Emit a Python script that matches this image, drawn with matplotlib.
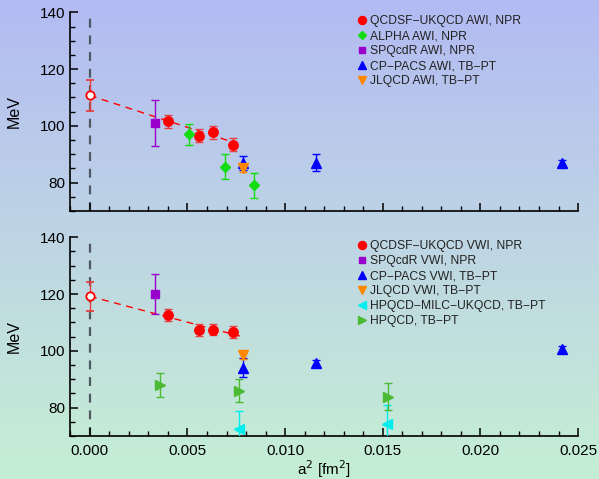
import numpy as np
import matplotlib
matplotlib.use("Agg")
import matplotlib.pyplot as plt
from matplotlib.ticker import MultipleLocator, FormatStrFormatter
from matplotlib.lines import Line2D

plt.rcParams['font.family'] = ['Liberation Sans', 'DejaVu Sans']

# ---------------- AWI panel ----------------
qcdsf_awi_x = [0.00398, 0.00558, 0.00630, 0.00732]
qcdsf_awi_y = [101.6, 96.5, 97.7, 93.3]
qcdsf_awi_e = [2.2, 2.3, 2.3, 2.3]

alpha_awi_x = [0.00507, 0.00691, 0.00841]
alpha_awi_y = [97.0, 85.6, 79.0]
alpha_awi_e = [3.7, 4.4, 4.4]

spqcdr_awi_x = [0.00336]
spqcdr_awi_y = [101.0]
spqcdr_awi_e = [8.0]

cppacs_awi_x = [0.00783, 0.01157, 0.02416]
cppacs_awi_y = [86.9, 87.0, 87.0]
cppacs_awi_e = [2.6, 3.0, 1.0]

jlqcd_awi_x = [0.00783]
jlqcd_awi_y = [85.1]
jlqcd_awi_e = [1.3]

cont_awi_y, cont_awi_e = 110.7, 5.5
fit_awi_x = [0.0, 0.0074]
fit_awi_y = [110.7, 94.1]

# ---------------- VWI panel ----------------
qcdsf_vwi_x = [0.00398, 0.00558, 0.00630, 0.00732]
qcdsf_vwi_y = [112.7, 107.4, 107.4, 106.7]
qcdsf_vwi_e = [2.1, 2.0, 1.9, 2.2]

spqcdr_vwi_x = [0.00336]
spqcdr_vwi_y = [119.9]
spqcdr_vwi_e = [7.0]

cppacs_vwi_x = [0.00783, 0.01157, 0.02417]
cppacs_vwi_y = [94.1, 95.6, 100.6]
cppacs_vwi_e = [3.4, 1.0, 1.0]

jlqcd_vwi_x = [0.00783]
jlqcd_vwi_y = [98.4]
jlqcd_vwi_e = [1.2]

hpqcd_milc_x = [0.00766, 0.01524]
hpqcd_milc_y = [72.3, 74.3]
hpqcd_milc_e = [6.6, 6.6]

hpqcd_x = [0.00358, 0.00763, 0.01527]
hpqcd_y = [88.0, 86.0, 83.9]
hpqcd_e = [4.1, 4.0, 4.9]

cont_vwi_y, cont_vwi_e = 119.2, 5.0
fit_vwi_x = [0.0, 0.00768]
fit_vwi_y = [119.2, 105.2]

RED = '#ff0000'
GREEN = '#11dd11'
PURPLE = '#9900cc'
BLUE = '#0000ff'
ORANGE = '#ff8800'
CYAN = '#00eeee'
HGREEN = '#4cbb33'

fig = plt.figure(figsize=(5.99, 4.79), dpi=100)

# vertical background gradient
bg = fig.add_axes([0, 0, 1, 1], zorder=-10)
top = np.array([179, 187, 243]) / 255
mid = np.array([190, 213, 228]) / 255
bot = np.array([197, 239, 212]) / 255
t = np.linspace(0, 1, 256)[:, None]
grad = np.where(t < 0.5, top + (mid - top) * (t / 0.5), mid + (bot - mid) * ((t - 0.5) / 0.5))
bg.imshow(grad[:, None, :].repeat(2, axis=1), aspect='auto', extent=[0, 1, 0, 1])
bg.axis('off')

ax1 = fig.add_axes([0.1174, 0.5595, 0.8476, 0.4148])
ax2 = fig.add_axes([0.1174, 0.0898, 0.8476, 0.4148])


def eb(ax, x, y, e, fmt, color, ms, label, ecolor=None):
    ax.errorbar(x, y, yerr=e, fmt=fmt, color=color, ms=ms, mec=color,
                mfc=color, ecolor=ecolor or color, elinewidth=1.0,
                capsize=2.8, capthick=1.0, label=label, zorder=3)


def style(ax, show_x):
    ax.set_facecolor('none')
    ax.set_xlim(-0.001, 0.025)
    ax.set_ylim(70, 140)
    for s in ('top', 'right'):
        ax.spines[s].set_visible(False)
    for s in ('left', 'bottom'):
        ax.spines[s].set_linewidth(1.2)
    ax.xaxis.set_major_locator(MultipleLocator(0.005))
    ax.xaxis.set_minor_locator(MultipleLocator(0.001))
    ax.yaxis.set_minor_locator(MultipleLocator(5))
    ax.set_yticks([80, 100, 120, 140])
    ax.xaxis.set_major_formatter(FormatStrFormatter('%.3f'))
    ax.tick_params(which='major', direction='in', length=6, width=1.1, labelsize=11)
    ax.tick_params(which='minor', direction='in', length=3.5, width=1.0)
    ax.tick_params(axis='x', labelbottom=show_x, pad=6)
    ax.set_ylabel('MeV', fontsize=11.5, labelpad=13)
    ax.axvline(0, color='#4f5860', lw=1.6, dashes=(4, 3.5), zorder=1)


# AWI
style(ax1, False)
ax1.plot(fit_awi_x, fit_awi_y, color=RED, lw=1.0, dashes=(5, 4), zorder=2)
eb(ax1, qcdsf_awi_x, qcdsf_awi_y, qcdsf_awi_e, 'o', RED, 6.8, 'QCDSF−UKQCD AWI, NPR', ecolor='#e84040')
eb(ax1, alpha_awi_x, alpha_awi_y, alpha_awi_e, 'D', GREEN, 5, 'ALPHA AWI, NPR')
eb(ax1, spqcdr_awi_x, spqcdr_awi_y, spqcdr_awi_e, 's', PURPLE, 5.5, 'SPQcdR AWI, NPR')
eb(ax1, cppacs_awi_x, cppacs_awi_y, cppacs_awi_e, '^', BLUE, 6.5, 'CP−PACS AWI, TB−PT')
eb(ax1, jlqcd_awi_x, jlqcd_awi_y, jlqcd_awi_e, 'v', ORANGE, 6.5, 'JLQCD AWI, TB−PT')
ax1.errorbar([0.0], [cont_awi_y], yerr=[cont_awi_e], fmt='o', ms=6, mfc='white', mec=RED,
             mew=1.3, ecolor='#e84040', elinewidth=1.0, capsize=2.8, zorder=4)

# VWI
style(ax2, True)
ax2.plot(fit_vwi_x, fit_vwi_y, color=RED, lw=1.0, dashes=(5, 4), zorder=2)
eb(ax2, qcdsf_vwi_x, qcdsf_vwi_y, qcdsf_vwi_e, 'o', RED, 6.8, 'QCDSF−UKQCD VWI, NPR', ecolor='#e84040')
eb(ax2, spqcdr_vwi_x, spqcdr_vwi_y, spqcdr_vwi_e, 's', PURPLE, 5.5, 'SPQcdR VWI, NPR')
eb(ax2, cppacs_vwi_x, cppacs_vwi_y, cppacs_vwi_e, '^', BLUE, 6.5, 'CP−PACS VWI, TB−PT')
eb(ax2, jlqcd_vwi_x, jlqcd_vwi_y, jlqcd_vwi_e, 'v', ORANGE, 6.5, 'JLQCD VWI, TB−PT')
eb(ax2, hpqcd_milc_x, hpqcd_milc_y, hpqcd_milc_e, '<', CYAN, 6.5, 'HPQCD−MILC−UKQCD, TB−PT')
eb(ax2, hpqcd_x, hpqcd_y, hpqcd_e, '>', HGREEN, 6.5, 'HPQCD, TB−PT')
ax2.errorbar([0.0], [cont_vwi_y], yerr=[cont_vwi_e], fmt='o', ms=6, mfc='white', mec=RED,
             mew=1.3, ecolor='#e84040', elinewidth=1.0, capsize=2.8, zorder=4)
ax2.set_xlabel('a$^2$ [fm$^2$]', fontsize=11, labelpad=0)

for ax in (ax1, ax2):
    handles, labels = ax.get_legend_handles_labels()
    markers = [Line2D([], [], ls='none', marker=h[0].get_marker(), color=h[0].get_color(),
                      ms=h[0].get_markersize() * 0.85) for h in handles]
    ax.legend(markers, labels, loc='upper left', bbox_to_anchor=(0.562, 0.997),
              frameon=False, fontsize=8.7, handlelength=0.6, handletextpad=0.35,
              labelspacing=0.24, borderpad=0.2, borderaxespad=0, labelcolor='#222222')

fig.savefig('out.png', dpi=100)
